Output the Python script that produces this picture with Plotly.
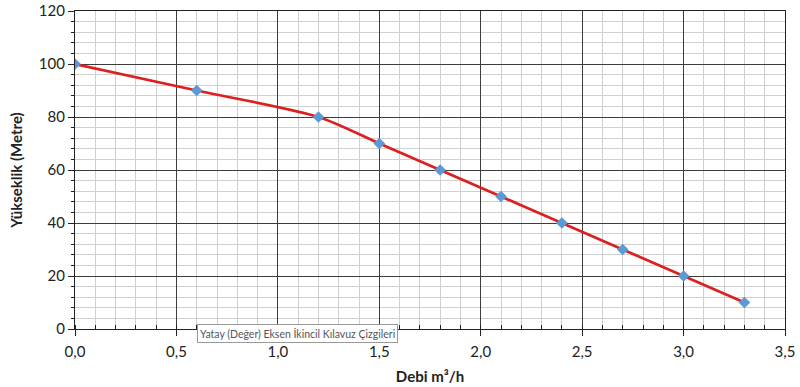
import plotly.graph_objects as go

debi = [0.0, 0.6, 1.2, 1.5, 1.8, 2.1, 2.4, 2.7, 3.0, 3.3]
yukseklik = [100, 90, 80, 70, 60, 50, 40, 30, 20, 10]

x_title = "Debi m³/h"
y_title = "Yükseklik (Metre)"
tooltip_text = "Yatay (Değer) Eksen İkincil Kılavuz Çizgileri"

FONT = "Lato, Carlito, Open Sans, sans-serif"

W, H = 800, 387
L, T, R, B = 75, 11, 15, 58
PW, PH = W - L - R, H - T - B

fig = go.Figure()
fig.add_trace(go.Scatter(
    x=debi, y=yukseklik, mode="lines",
    line=dict(color="#dc1f1f", width=2.7, shape="spline", smoothing=0.8),
    hoverinfo="skip", showlegend=False,
))
fig.add_trace(go.Scatter(
    x=debi, y=yukseklik, mode="markers",
    marker=dict(symbol="diamond", color="#5b9bd5", size=9),
    showlegend=False,
))

fig.update_layout(
    width=W, height=H,
    margin=dict(l=L, r=R, t=T, b=B, autoexpand=False),
    paper_bgcolor="white", plot_bgcolor="white",
    separators=",.",
    font=dict(family=FONT, color="#222"),
)
fig.update_xaxes(
    range=[0, 3.5], dtick=0.5, tick0=0, tickformat=".1f",
    automargin=False,
    showgrid=True, gridcolor="#3c3c3c", gridwidth=1.2,
    showline=True, linecolor="#222", linewidth=1.2, mirror=True,
    ticks="outside", ticklen=6, tickcolor="#222",
    ticklabelstandoff=3,
    tickfont=dict(size=15, family=FONT, color="#222"),
    minor=dict(dtick=0.1, showgrid=True, gridcolor="#cfcfcf", gridwidth=1,
               ticks="inside", ticklen=4, tickcolor="#222"),
    title=dict(text="<b>" + x_title + "</b>", font=dict(size=15, family=FONT, color="#222"), standoff=12),
    zeroline=False,
)
fig.update_yaxes(
    range=[0, 120], dtick=20, tick0=0,
    automargin=False,
    showgrid=True, gridcolor="#3c3c3c", gridwidth=1.2,
    showline=True, linecolor="#222", linewidth=1.2, mirror=True,
    ticks="outside", ticklen=6, tickcolor="#222",
    tickfont=dict(size=15, family=FONT, color="#222"),
    minor=dict(dtick=4, showgrid=True, gridcolor="#cfcfcf", gridwidth=1,
               ticks="outside", ticklen=3, tickcolor="#222"),
    title=dict(text="<b>" + y_title + "</b>", font=dict(size=15, family=FONT, color="#222"), standoff=12),
    zeroline=False,
)

fig.add_annotation(
    x=(197 - L) / PW, y=(H - B - 333.5) / PH, xref="paper", yref="paper", showarrow=False,
    text=tooltip_text, xanchor="left", yanchor="middle",
    font=dict(size=10.5, family=FONT, color="#555"),
    bgcolor="white", bordercolor="#9a9a9a", borderwidth=1, borderpad=2,
)

fig.write_html("out.html", config={"displayModeBar": False},
               post_script="document.body.style.margin='0';document.body.style.padding='0';")
